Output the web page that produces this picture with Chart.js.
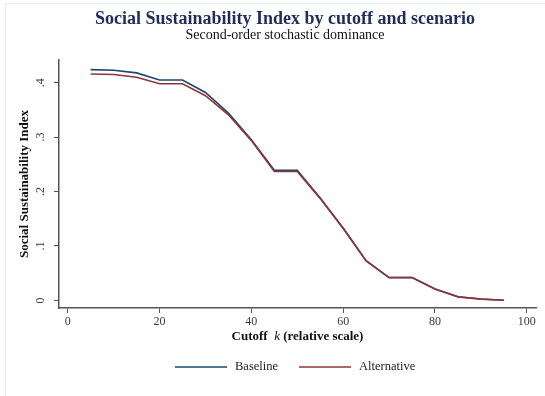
<!DOCTYPE html>
<html>
<head>
<meta charset="utf-8">
<script src="https://cdn.jsdelivr.net/npm/chart.js@4"></script>
<style>
  html, body { margin: 0; padding: 0; background: #ffffff; }
  #wrap { width: 545px; height: 396px; }
</style>
</head>
<body>
<div id="wrap"><canvas id="c" width="545" height="396"></canvas></div>
<script>
// Cutoff values k and the index for each scenario
const cutoffs = [5, 10, 15, 20, 25, 30, 35, 40, 45, 50, 55, 60, 65, 70, 75, 80, 85, 90, 95];
const baseline = [0.424, 0.423, 0.418, 0.405, 0.405, 0.382, 0.344, 0.295, 0.239, 0.239, 0.188, 0.133, 0.073, 0.042, 0.042, 0.021, 0.0068, 0.0025, 0.0003];
const alternative = [0.416, 0.415, 0.410, 0.398, 0.398, 0.376, 0.341, 0.2936, 0.2367, 0.2367, 0.187, 0.132, 0.0725, 0.0418, 0.0418, 0.021, 0.0065, 0.0023, 0.0002];
const xTicks = [0, 20, 40, 60, 80, 100];
const yTicks = [0, 0.1, 0.2, 0.3, 0.4];
const yTickLabels = ['0', '.1', '.2', '.3', '.4'];

const titleText = 'Social Sustainability Index by cutoff and scenario';
const subtitleText = 'Second-order stochastic dominance';
const yTitle = 'Social Sustainability Index';

const BLUE = '#1a476f';
const RED = '#90353b';
const AXIS = '#555555';
const SERIF = '"Liberation Serif", "Times New Roman", serif';

const decorations = {
  id: 'decorations',
  beforeDraw(chart) {
    const ctx = chart.ctx;
    ctx.save();
    ctx.fillStyle = '#ffffff';
    ctx.fillRect(0, 0, chart.width, chart.height);
    ctx.strokeStyle = '#e6eeef';
    ctx.lineWidth = 1;
    ctx.beginPath();
    ctx.moveTo(5.5, chart.height);
    ctx.lineTo(5.5, 3.5);
    ctx.lineTo(chart.width, 3.5);
    ctx.stroke();
    ctx.restore();
  },
  afterDraw(chart) {
    const ctx = chart.ctx;
    const xs = chart.scales.x, ys = chart.scales.y;
    const area = chart.chartArea;
    ctx.save();

    // titles
    ctx.textAlign = 'center';
    ctx.textBaseline = 'middle';
    ctx.fillStyle = '#1f2d58';
    ctx.font = 'bold 18px ' + SERIF;
    ctx.fillText(titleText, 285, 19);
    ctx.fillStyle = '#111111';
    ctx.font = '14px ' + SERIF;
    ctx.fillText(subtitleText, 285, 35);

    // x tick labels
    ctx.fillStyle = '#3a3a3a';
    ctx.font = '12px ' + SERIF;
    xTicks.forEach(v => {
      ctx.fillText(String(v), xs.getPixelForValue(v), 322);
    });

    // y tick labels, rotated
    yTicks.forEach((v, i) => {
      ctx.save();
      ctx.translate(41, ys.getPixelForValue(v));
      ctx.rotate(-Math.PI / 2);
      ctx.fillText(yTickLabels[i], 0, 0);
      ctx.restore();
    });

    // axis titles
    ctx.fillStyle = '#111111';
    ctx.font = 'bold 13px ' + SERIF;
    ctx.save();
    ctx.translate(25, (area.top + area.bottom) / 2);
    ctx.rotate(-Math.PI / 2);
    ctx.fillText(yTitle, 0, 0);
    ctx.restore();

    const cx = (area.left + area.right) / 2;
    const parts = [
      { t: 'Cutoff  ', f: 'bold 13px ' + SERIF },
      { t: 'k', f: 'italic 13px ' + SERIF },
      { t: ' (relative scale)', f: 'bold 13px ' + SERIF }
    ];
    let total = 0;
    parts.forEach(p => { ctx.font = p.f; p.w = ctx.measureText(p.t).width; total += p.w; });
    let px = cx - total / 2;
    ctx.textAlign = 'left';
    parts.forEach(p => { ctx.font = p.f; ctx.fillText(p.t, px, 337); px += p.w; });

    // legend
    const legendY = 367;
    const items = [
      { label: chart.data.datasets[1].label, color: BLUE, x: 175 },
      { label: chart.data.datasets[0].label, color: RED, x: 299 }
    ];
    ctx.font = '12.5px ' + SERIF;
    ctx.fillStyle = '#222222';
    items.forEach(it => {
      ctx.strokeStyle = it.color;
      ctx.lineWidth = 1.5;
      ctx.beginPath();
      ctx.moveTo(it.x, legendY);
      ctx.lineTo(it.x + 52, legendY);
      ctx.stroke();
      ctx.fillText(it.label, it.x + 60, legendY);
    });

    ctx.restore();
  }
};

new Chart(document.getElementById('c'), {
  type: 'line',
  data: {
    labels: cutoffs,
    datasets: [
      {
        label: 'Alternative',
        data: cutoffs.map((k, i) => ({ x: k, y: alternative[i] })),
        borderColor: RED,
        borderWidth: 1.6,
        pointRadius: 0,
        tension: 0,
        order: 0
      },
      {
        label: 'Baseline',
        data: cutoffs.map((k, i) => ({ x: k, y: baseline[i] })),
        borderColor: BLUE,
        borderWidth: 1.6,
        pointRadius: 0,
        tension: 0,
        order: 1
      }
    ]
  },
  options: {
    responsive: false,
    animation: false,
    layout: { padding: { left: 0, top: 60, right: 9, bottom: 0 } },
    plugins: {
      legend: { display: false },
      title: { display: false },
      tooltip: { enabled: false }
    },
    scales: {
      x: {
        type: 'linear',
        min: -1.9,
        max: 102,
        afterBuildTicks(scale) { scale.ticks = xTicks.map(v => ({ value: v })); },
        afterFit(scale) { scale.height = 88; },
        ticks: { display: false },
        grid: { drawOnChartArea: false, drawTicks: true, tickLength: 5, color: AXIS, lineWidth: 1 },
        border: { display: true, color: AXIS, width: 1.5 }
      },
      y: {
        type: 'linear',
        min: -0.014,
        max: 0.4417,
        afterBuildTicks(scale) { scale.ticks = yTicks.map(v => ({ value: v })); },
        afterFit(scale) { scale.width = 59; },
        ticks: { display: false },
        grid: { drawOnChartArea: false, drawTicks: true, tickLength: 5, color: AXIS, lineWidth: 1 },
        border: { display: true, color: AXIS, width: 1.5 }
      }
    }
  },
  plugins: [decorations]
});
</script>
</body>
</html>
